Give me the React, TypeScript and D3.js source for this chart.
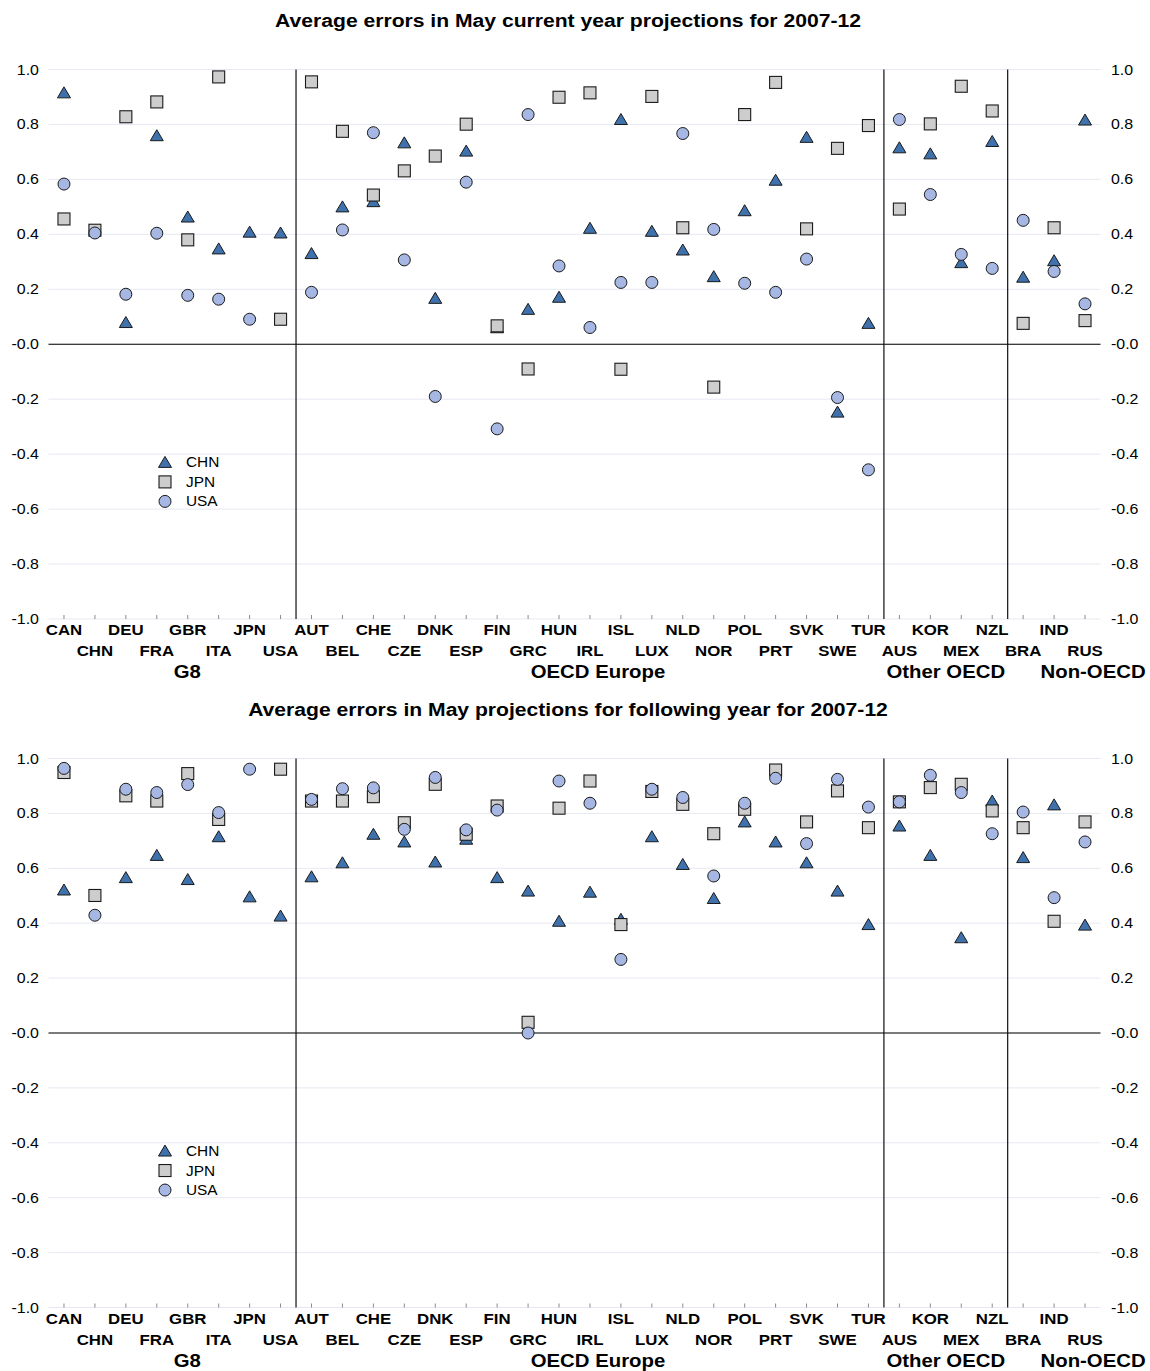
import React from "react";
import * as d3 from "d3";

const countries = ["CAN","CHN","DEU","FRA","GBR","ITA","JPN","USA","AUT","BEL","CHE","CZE","DNK","ESP","FIN","GRC","HUN","IRL","ISL","LUX","NLD","NOR","POL","PRT","SVK","SWE","TUR","AUS","KOR","MEX","NZL","BRA","IND","RUS"];
const groupNames = ["G8", "OECD Europe", "Other OECD", "Non-OECD"];
const groupSizes = [8, 19, 4, 3];
const yTicks = [-1.0, -0.8, -0.6, -0.4, -0.2, 0.0, 0.2, 0.4, 0.6, 0.8, 1.0];
const yTickLabels = ["-1.0", "-0.8", "-0.6", "-0.4", "-0.2", "-0.0", "0.2", "0.4", "0.6", "0.8", "1.0"];
const seriesNames = ["CHN", "JPN", "USA"];
const titles = [
  "Average errors in May current year projections for 2007-12",
  "Average errors in May projections for following year for 2007-12",
];

// Panel 1: current year
const chn1 = [0.915,null,0.079,0.759,0.463,0.347,0.408,0.405,0.330,0.500,0.519,0.733,0.167,0.703,0.060,0.127,0.171,0.422,0.818,0.411,0.343,0.246,0.486,0.597,0.753,-0.247,0.076,0.715,0.693,0.297,0.738,0.244,0.304,0.816];
const jpn1 = [0.456,0.415,0.828,0.882,0.380,0.973,null,0.091,0.955,0.775,0.543,0.631,0.685,0.801,0.067,-0.090,0.899,0.915,-0.091,0.902,0.424,-0.156,0.836,0.953,0.420,0.713,0.796,0.492,0.802,0.939,0.849,0.076,0.424,0.086];
const usa1 = [0.583,0.405,0.182,0.404,0.178,0.164,0.091,null,0.189,0.416,0.770,0.307,-0.190,0.590,-0.308,0.836,0.285,0.061,0.225,0.225,0.767,0.418,0.222,0.189,0.310,-0.194,-0.457,0.818,0.545,0.327,0.276,0.451,0.265,0.147];

// Panel 2: following year
const chn2 = [0.521,null,0.566,0.647,0.559,0.715,0.496,0.426,0.569,0.620,0.724,0.696,0.623,0.706,0.566,0.517,0.407,0.513,0.414,0.715,0.614,0.490,0.769,0.696,0.620,0.517,0.395,0.754,0.647,0.347,0.845,0.639,0.831,0.393];
const jpn2 = [0.949,0.501,0.864,0.845,0.945,0.778,null,0.961,0.845,0.845,0.861,0.766,0.906,0.724,0.827,0.039,0.819,0.918,0.395,0.880,0.833,0.726,0.815,0.958,0.769,0.882,0.748,0.842,0.894,0.906,0.809,0.748,0.407,0.769];
const usa2 = [0.964,0.429,0.888,0.876,0.905,0.803,0.961,null,0.851,0.890,0.893,0.742,0.931,0.740,0.812,0.000,0.918,0.837,0.268,0.888,0.858,0.572,0.837,0.928,0.690,0.924,0.823,0.842,0.939,0.876,0.726,0.805,0.493,0.696];

const W = 1150, H = 1371;
const PL = 48.5, PR = 1100.5;
const SX = 1.1; // horizontal text stretch
const FONT = "'Liberation Sans', Arial, Helvetica, sans-serif";

const COL_TRI = "#3f72ad";
const COL_SQ = "#cdcdcd";
const COL_CIR = "#a5b7e2";
const STROKE = "#1a1a1a";

const groupOffsets = [15, 8, 0, 39];

function Txt({ x, y, anchor = "start", size = 15, weight = "normal", children, fill = "#000" }: any) {
  return (
    <text
      transform={`translate(${x},${y}) scale(${SX},1)`}
      textAnchor={anchor}
      fontSize={size}
      fontWeight={weight}
      fontFamily={FONT}
      fill={fill}
    >
      {children}
    </text>
  );
}

function Marker({ kind, cx, cy }: any) {
  if (kind === 0) {
    const p = d3.path();
    p.moveTo(cx, cy - 6);
    p.lineTo(cx + 6.5, cy + 5);
    p.lineTo(cx - 6.5, cy + 5);
    p.closePath();
    return <path d={p.toString()} fill={COL_TRI} stroke={STROKE} strokeWidth={1} />;
  }
  if (kind === 1) {
    return <rect x={cx - 6} y={cy - 6} width={12} height={12} fill={COL_SQ} stroke={STROKE} strokeWidth={1.1} />;
  }
  return <circle cx={cx} cy={cy} r={6} fill={COL_CIR} stroke={STROKE} strokeWidth={1} />;
}

function Panel({ title, series, top, bottom, titleY }: any) {
  const x = d3.scaleBand<string>().domain(countries).range([PL, PR]).padding(0);
  const y = d3.scaleLinear().domain([-1, 1]).range([bottom, top]);
  const cx = (c: string) => (x(c) as number) + x.bandwidth() / 2;

  let acc = 0;
  const groupSpans = groupSizes.map((s) => {
    const start = acc;
    acc += s;
    return [start, acc];
  });
  const bounds = groupSpans.slice(0, -1).map(([, e]) => x(countries[e]) as number);

  const legendY = y(-0.43);
  return (
    <g>
      <Txt x={568} y={titleY} anchor="middle" size={19.2} weight="bold">{title}</Txt>
      {yTicks.map((t) => (
        <line key={"g" + t} x1={PL} x2={PR} y1={y(t)} y2={y(t)} stroke="#e6e9f1" strokeWidth={1} />
      ))}
      {yTicks.map((t, i) => (
        <g key={"l" + t}>
          <Txt x={39} y={y(t) + 5} anchor="end" size={14.5}>{yTickLabels[i]}</Txt>
          <Txt x={1111} y={y(t) + 5} anchor="start" size={14.5}>{yTickLabels[i]}</Txt>
        </g>
      ))}
      <line x1={PL} x2={PR} y1={y(0)} y2={y(0)} stroke="#000" strokeWidth={1.2} />
      {bounds.map((b, i) => (
        <line key={"b" + i} x1={b} x2={b} y1={top} y2={bottom} stroke="#111" strokeWidth={1.2} />
      ))}
      {countries.map((c) => (
        <line key={"t" + c} x1={cx(c)} x2={cx(c)} y1={bottom - 4} y2={bottom} stroke="#8a8a8a" strokeWidth={1} />
      ))}
      {countries.map((c, i) => (
        <Txt key={"c" + c} x={cx(c)} y={bottom + (i % 2 === 0 ? 16 : 37)} anchor="middle" size={15.3} weight="bold">{c}</Txt>
      ))}
      {groupSpans.map(([s, e], i) => {
        const mid = ((x(countries[s]) as number) + (x(countries[e - 1]) as number) + x.bandwidth()) / 2;
        return (
          <Txt key={"gr" + i} x={mid + groupOffsets[i]} y={bottom + 59} anchor="middle" size={18.5} weight="bold">{groupNames[i]}</Txt>
        );
      })}
      {series.map((vals: (number | null)[], k: number) => (
        <g key={"s" + k}>
          {vals.map((v, i) =>
            v === null ? null : <Marker key={i} kind={k} cx={cx(countries[i])} cy={y(v)} />
          )}
        </g>
      ))}
      {seriesNames.map((n, k) => (
        <g key={"lg" + n}>
          <Marker kind={k} cx={165} cy={legendY + k * 19.5} />
          <Txt x={186} y={legendY + k * 19.5 + 5} size={14}>{n}</Txt>
        </g>
      ))}
    </g>
  );
}

export default function App() {
  return (
    <svg width={W} height={H} viewBox={`0 0 ${W} ${H}`} style={{ position: "absolute", left: 0, top: 0, background: "#fff" }}>
      <rect x={0} y={0} width={W} height={H} fill="#fff" />
      <Panel title={titles[0]} series={[chn1, jpn1, usa1]} top={69.5} bottom={619} titleY={27} />
      <Panel title={titles[1]} series={[chn2, jpn2, usa2]} top={758.5} bottom={1307.5} titleY={716} />
    </svg>
  );
}
